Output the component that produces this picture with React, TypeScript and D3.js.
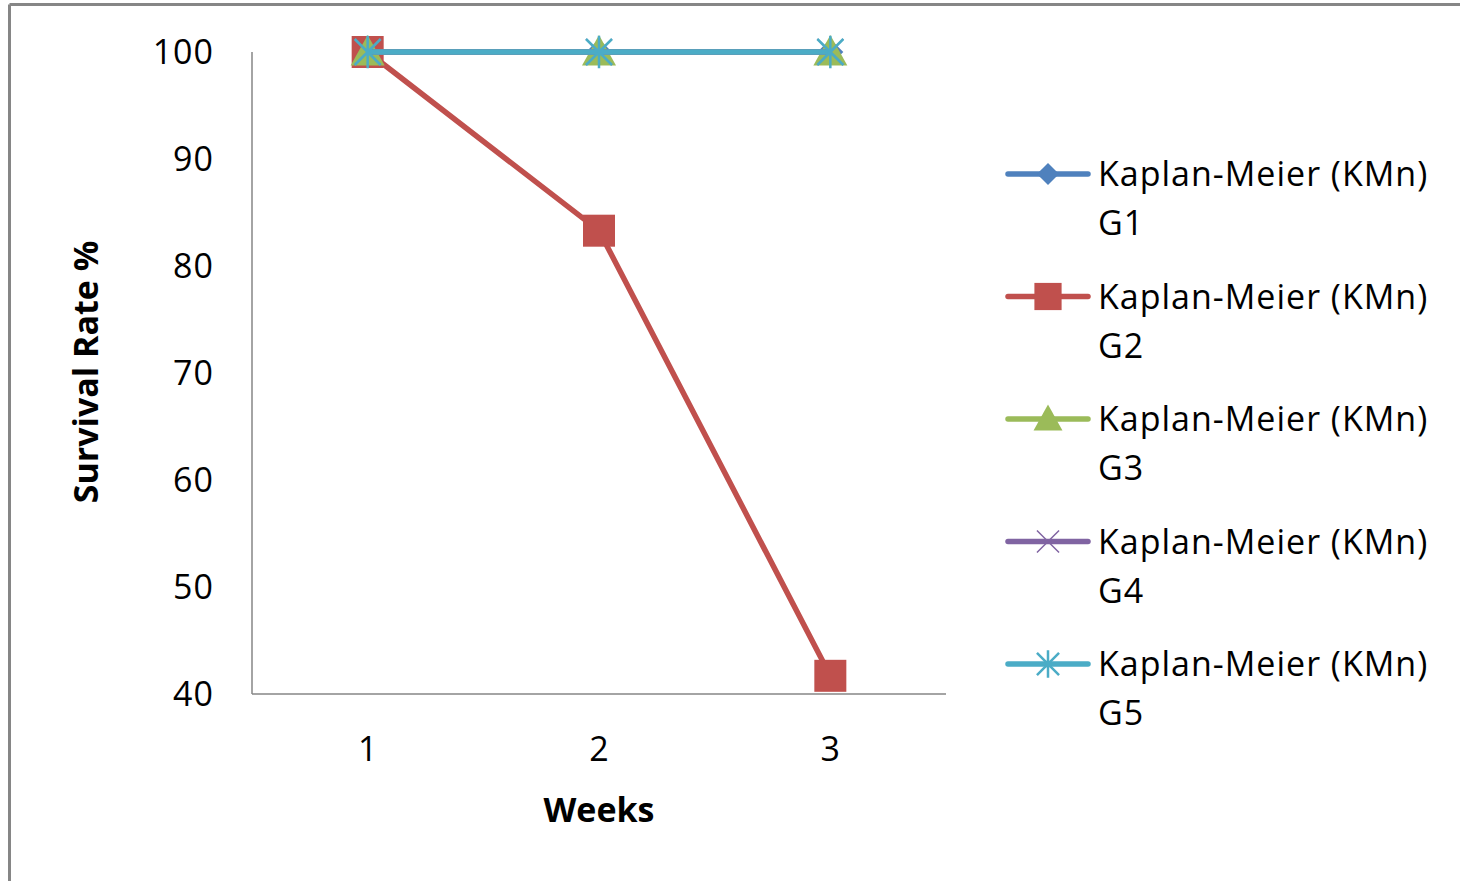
import React from "react";
import * as d3 from "d3";

const weeks = ["1", "2", "3"];
const seriesNames = [
  "Kaplan-Meier (KMn) G1",
  "Kaplan-Meier (KMn) G2",
  "Kaplan-Meier (KMn) G3",
  "Kaplan-Meier (KMn) G4",
  "Kaplan-Meier (KMn) G5",
];
const g1 = [100, 100, 100];
const g2 = [100, 83.3, 41.7];
const g3 = [100, 100, 100];
const g4 = [100, 100, 100];
const g5 = [100, 100, 100];
const yTicks = [40, 50, 60, 70, 80, 90, 100];
const colors = ["#4F81BD", "#C0504D", "#9BBB59", "#8064A2", "#4BACC6"];
const markerTypes = ["diamond", "square", "triangle", "x", "star"];

const FONT = "'Open Sans', 'Noto Sans', sans-serif";

function Marker({ type, x, y, color, k = 1 }: { type: string; x: number; y: number; color: string; k?: number }) {
  if (type === "diamond") {
    const s = 13 * k;
    return <path d={`M${x},${y - s}L${x + s},${y}L${x},${y + s}L${x - s},${y}Z`} fill={color} />;
  }
  if (type === "square") {
    const s = 16 * k;
    return <rect x={x - s} y={y - s} width={2 * s} height={2 * s} fill={color} />;
  }
  if (type === "triangle") {
    const s = 17 * k;
    return <path d={`M${x},${y - s}L${x + s},${y + s * 0.8}L${x - s},${y + s * 0.8}Z`} fill={color} />;
  }
  if (type === "x") {
    const s = 13 * k;
    return (
      <path d={`M${x - s},${y - s}L${x + s},${y + s}M${x - s},${y + s}L${x + s},${y - s}`} stroke={color} strokeWidth={1.5} fill="none" />
    );
  }
  const s = 13 * k;
  return (
    <path
      d={`M${x - s},${y - s}L${x + s},${y + s}M${x - s},${y + s}L${x + s},${y - s}M${x},${y - s * 1.25}L${x},${y + s * 1.25}`}
      stroke={color}
      strokeWidth={2.5}
      fill="none"
    />
  );
}

export default function App() {
  const W = 1460;
  const H = 881;
  const left = 252;
  const right = 946;
  const top = 52;
  const bottom = 694;

  const x = d3.scaleBand<string>().domain(weeks).range([left, right]);
  const y = d3.scaleLinear().domain([40, 100]).range([bottom, top]);
  const allSeries = [g1, g2, g3, g4, g5];
  const line = d3
    .line<number>()
    .x((_, i) => (x(weeks[i]) as number) + x.bandwidth() / 2)
    .y((d) => y(d));

  const legendX = 1008;
  const legendY0 = 174;
  const legendStep = 122.5;

  return (
    <svg
      width={W}
      height={H}
      style={{ position: "absolute", left: 0, top: 0, background: "#fff" }}
      fontFamily={FONT}
    >
      <rect x={0} y={0} width={W} height={H} fill="#fff" />
      {/* outer frame */}
      <line x1={9.5} y1={4.5} x2={W + 5} y2={4.5} stroke="#868686" strokeWidth={3} />
      <line x1={9.5} y1={4.5} x2={9.5} y2={H + 5} stroke="#868686" strokeWidth={3} />

      {/* axes */}
      <line x1={left} y1={top} x2={left} y2={bottom} stroke="#868686" strokeWidth={1.5} />
      <line x1={left} y1={bottom} x2={right} y2={bottom} stroke="#868686" strokeWidth={1.5} />

      {yTicks.map((t) => (
        <text key={t} x={214} y={y(t) + 12} textAnchor="end" fontSize={34} letterSpacing={1} fill="#000">
          {t}
        </text>
      ))}
      {weeks.map((w) => (
        <text
          key={w}
          x={(x(w) as number) + x.bandwidth() / 2}
          y={761}
          textAnchor="middle"
          fontSize={34}
          fill="#000"
        >
          {w}
        </text>
      ))}

      <text x={599} y={822} textAnchor="middle" fontSize={34} fontWeight="bold" fill="#000">
        Weeks
      </text>
      <text
        transform={`translate(98,372) rotate(-90)`}
        textAnchor="middle"
        fontSize={34}
        fontWeight="bold"
        fill="#000"
      >
        Survival Rate %
      </text>

      {allSeries.map((s, si) => (
        <g key={si}>
          <path d={line(s) as string} fill="none" stroke={colors[si]} strokeWidth={5.5} strokeLinejoin="round" />
          {s.map((v, i) => (
            <Marker
              key={i}
              type={markerTypes[si]}
              x={(x(weeks[i]) as number) + x.bandwidth() / 2}
              y={y(v)}
              color={colors[si]}
            />
          ))}
        </g>
      ))}

      {seriesNames.map((name, i) => {
        const ly = legendY0 + i * legendStep;
        const parts = name.split(" G");
        return (
          <g key={name}>
            <line x1={legendX} y1={ly} x2={legendX + 80} y2={ly} stroke={colors[i]} strokeWidth={5.5} strokeLinecap="round" />
            <Marker type={markerTypes[i]} x={legendX + 40} y={ly} color={colors[i]} k={0.85} />
            <text x={1098} y={ly + 12} fontSize={34} letterSpacing={1} fill="#000">
              {parts[0]}
            </text>
            <text x={1098} y={ly + 61} fontSize={34} letterSpacing={1} fill="#000">
              {"G" + parts[1]}
            </text>
          </g>
        );
      })}
    </svg>
  );
}
